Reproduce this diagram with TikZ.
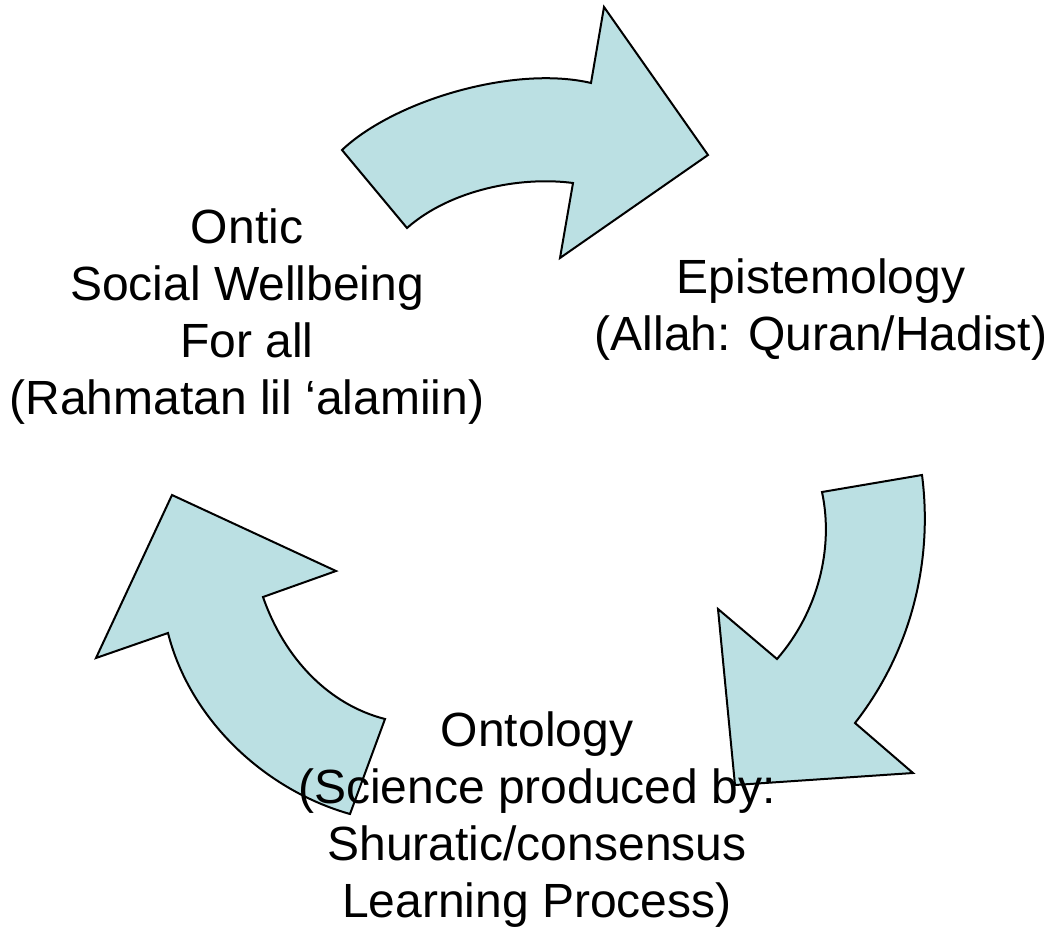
\documentclass[tikz,border=0pt]{standalone}
\usepackage{fontspec}
\setmainfont{Liberation Sans}
\definecolor{arrowfill}{RGB}{187,224,227}
\begin{document}
\begin{tikzpicture}[x=1pt,y=-1pt,
  bigarrow/.style={fill=arrowfill,draw=black,line width=2pt,line join=miter},
  label/.style={align=center,anchor=base,inner sep=0pt,font=\fontsize{48}{57}\selectfont}]
\useasboundingbox (0,0) rectangle (1052,929);
% top arrow
\draw[bigarrow] (342,150) .. controls (395,100) and (515,65) .. (591,83)
  -- (604,7) -- (708,155) -- (560,258) -- (573,183)
  .. controls (520,176) and (450,190) .. (407,228) -- cycle;
% right arrow
\draw[bigarrow] (822,492) -- (922,475) .. controls (933,560) and (912,650) .. (855,723)
  -- (913,773) -- (735,785) -- (718,609) -- (777,659)
  .. controls (818,612) and (834,548) .. (822,492) -- cycle;
% left arrow
\draw[bigarrow] (172,495) -- (336,571) -- (263,597)
  .. controls (285,660) and (330,705) .. (385,719) -- (350,814)
  .. controls (265,790) and (190,720) .. (168,633) -- (96,658) -- cycle;
% labels
\node[label] (ontic) at (247,414) {Ontic\\Social Wellbeing\\For all\\(Rahmatan lil ‘alamiin)};
\node[label] (epis) at (821,350) {Epistemology\\(Allah: Quran/Hadist)};
\node[label] (onto) at (537,917) {Ontology\\(Science produced by:\\Shuratic/consensus\\Learning Process)};
\end{tikzpicture}
\end{document}
